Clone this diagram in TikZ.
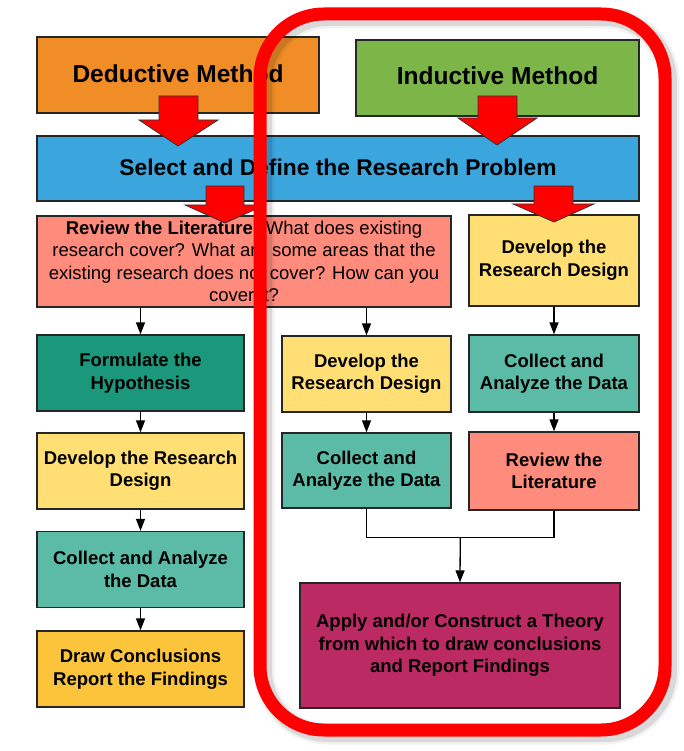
\documentclass[tikz,border=0pt]{standalone}
\usepackage{fontspec}
\setmainfont{Liberation Sans}
\usepackage{tikz}
\usetikzlibrary{arrows.meta,calc}
\definecolor{dedorange}{HTML}{F08D27}
\definecolor{indgreen}{HTML}{7CB649}
\definecolor{selblue}{HTML}{3BA5DD}
\definecolor{litsalmon}{HTML}{FF8B7D}
\definecolor{desyellow}{HTML}{FFDE73}
\definecolor{hypteal}{HTML}{1B977B}
\definecolor{datateal}{HTML}{5BBBA7}
\definecolor{findgold}{HTML}{FBC43B}
\definecolor{thmagenta}{HTML}{BB2A62}
\begin{document}
\begin{tikzpicture}[x=1pt, y=-1pt,
        box/.style={draw=black!85, line width=1.3pt, inner sep=0pt, align=center,
                font=\bfseries\fontsize{18.5}{22.5}\selectfont},
        bigarrow/.style={fill=red, draw=black!80, line width=0.8pt, line join=miter},
        thin/.style={line width=1.3pt, -{Triangle[length=12pt, width=9pt]}}]
        \useasboundingbox (0,0) rectangle (684,751);
        \node[box, fill=dedorange, minimum width=282, minimum height=76, font=\bfseries\fontsize{24.5}{28}\selectfont] (ded) at (178, 75) {\raisebox{3pt}{Deductive Method}};
        \node[box, fill=indgreen, minimum width=283, minimum height=76, font=\bfseries\fontsize{24.5}{28}\selectfont] (ind) at (497.5, 78) {\raisebox{4pt}{Inductive Method}};
        \node[box, fill=selblue, minimum width=602, minimum height=65, font=\bfseries\fontsize{22.8}{27}\selectfont] (sel) at (338, 168.5) {\raisebox{2pt}{Select and Define the Research Problem}};
        \node[box, fill=litsalmon, minimum width=414, minimum height=91, font=\mdseries\fontsize{18.5}{22.3}\selectfont] (revlit) at (244, 261.5) {\textbf{Review the Literature:} What does existing\\research cover? What are some areas that the\\existing research does not cover? How can you\\cover it?};
        \node[box, fill=desyellow, minimum width=170, minimum height=91] (devr) at (554, 260.5) {Develop the\\Research Design};
        \node[box, fill=hypteal, minimum width=207, minimum height=76] (form) at (140.5, 373) {Formulate the\\Hypothesis};
        \node[box, fill=desyellow, minimum width=207, minimum height=76] (devl) at (140.5, 471) {Develop the Research\\Design};
        \node[box, fill=datateal, minimum width=207, minimum height=76] (colll) at (140.5, 569.5) {Collect and Analyze\\the Data};
        \node[box, fill=findgold, minimum width=207, minimum height=76] (concl) at (140.5, 669) {Draw Conclusions\\Report the Findings};
        \node[box, fill=desyellow, minimum width=169, minimum height=76] (devm) at (366.5, 374) {Develop the\\Research Design};
        \node[box, fill=datateal, minimum width=169, minimum height=75] (collm) at (366.5, 470.5) {Collect and\\Analyze the Data};
        \node[box, fill=datateal, minimum width=170, minimum height=77] (collr) at (554, 373.5) {Collect and\\Analyze the Data};
        \node[box, fill=litsalmon, minimum width=170, minimum height=78] (revr) at (554, 471) {Review the\\Literature};
        \node[box, fill=thmagenta, minimum width=320, minimum height=125] (thry) at (460, 645.5) {Apply and/or Construct a Theory\\from which to draw conclusions\\and Report Findings};
        \coordinate (join) at ($(collm.south)!0.5!(revr.south)+(0,28)$);
        \draw[thin] (form.north |- revlit.south) -- (form.north);
        \draw[thin] (devm.north |- revlit.south) -- (devm.north);
        \draw[thin] (form) -- (devl);
        \draw[thin] (devl) -- (colll);
        \draw[thin] (colll) -- (concl);
        \draw[thin] (devm) -- (collm);
        \draw[thin] (devr) -- (collr);
        \draw[thin] (collr) -- (revr);
        \draw[line width=1.3pt] (collm.south) |- (join) -| (revr.south);
        \draw[thin] (join) -- (thry.north);
        \draw[bigarrow] (178,146) -- (218,120) -- (198,120) -- (198,96) -- (159,96) -- (159,120) -- (139,120) -- cycle;
        \draw[bigarrow] (497,145) -- (537,118) -- (517,118) -- (517,96) -- (478,96) -- (478,118) -- (458,118) -- cycle;
        \draw[bigarrow] (225,223) -- (265,205) -- (244,205) -- (244,186) -- (206,186) -- (206,205) -- (185,205) -- cycle;
        \draw[bigarrow] (554,222) -- (594,204) -- (573,204) -- (573,186) -- (534,186) -- (534,204) -- (513,204) -- cycle;
        \draw[line width=21pt, black, opacity=0.05, rounded corners=64pt] (264,18) rectangle (669,734);
        \draw[line width=16pt, black, opacity=0.10, rounded corners=64pt] (264,18) rectangle (669,734);
        \draw[line width=13pt, red, rounded corners=64pt] (260,14) rectangle (665,730);
\end{tikzpicture}
\end{document}
